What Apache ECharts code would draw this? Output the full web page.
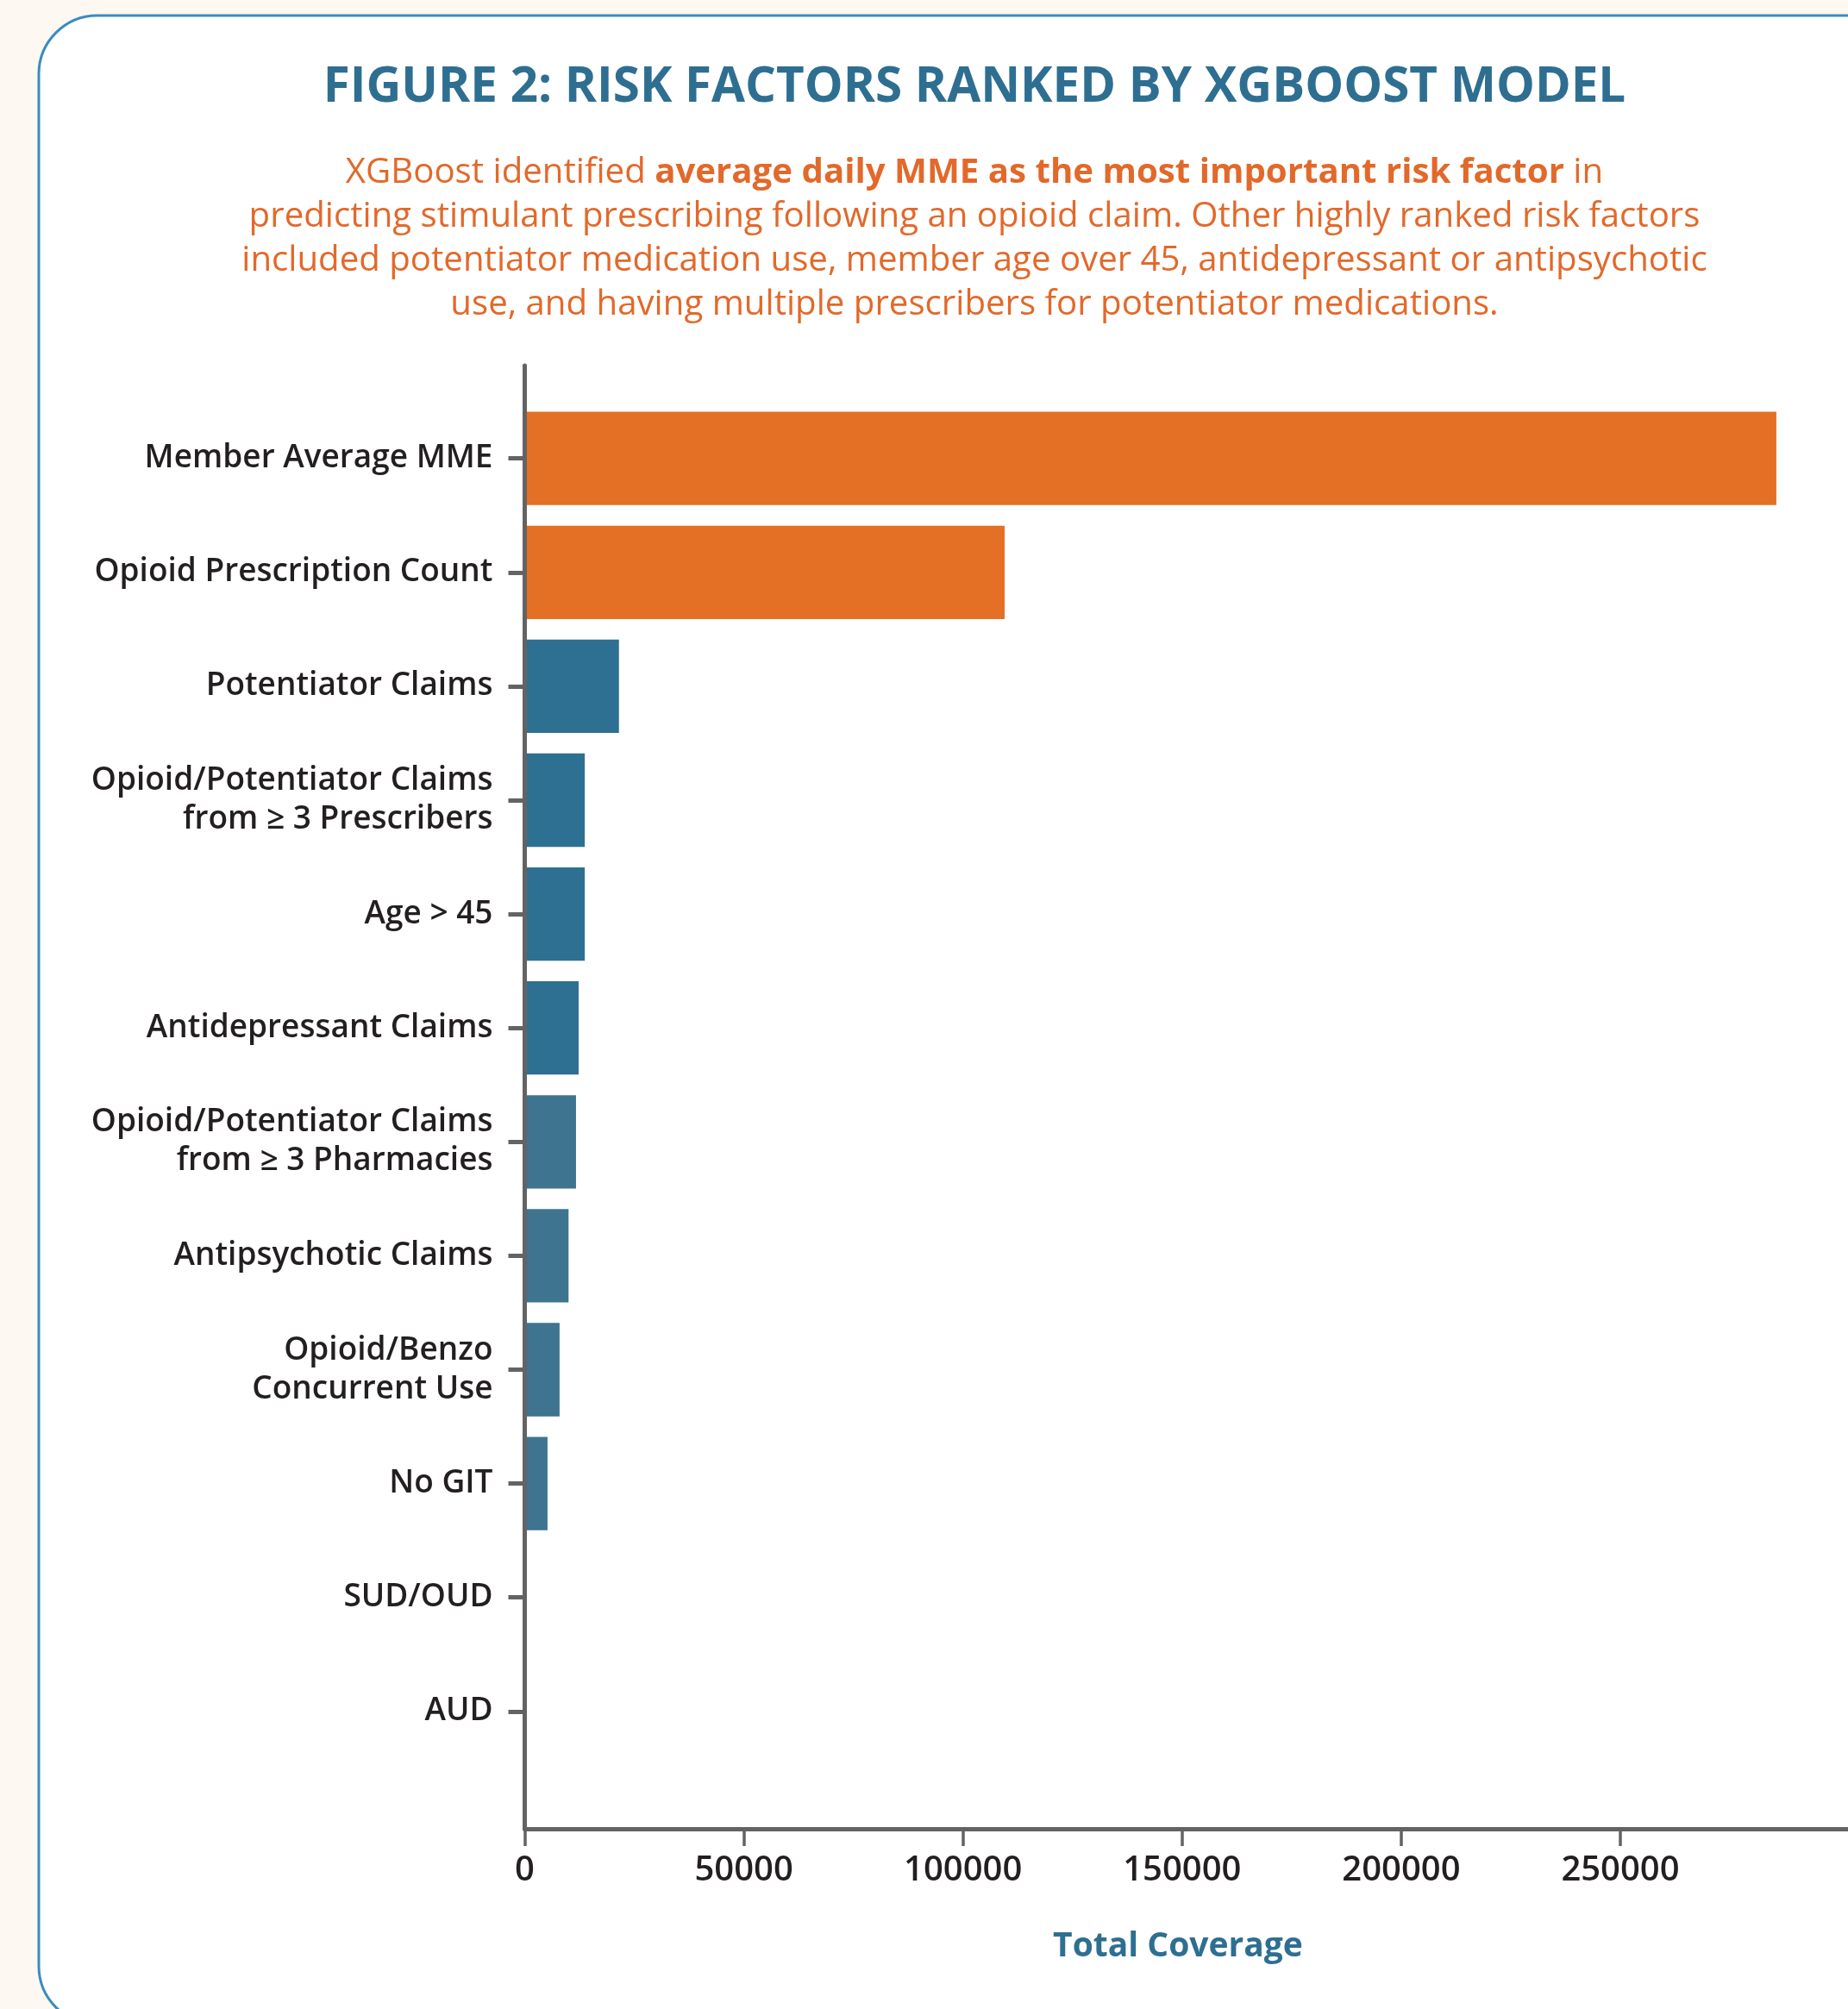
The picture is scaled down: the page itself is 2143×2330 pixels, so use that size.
<!DOCTYPE html>
<html>
<head>
<meta charset="utf-8">
<script src="https://cdn.jsdelivr.net/npm/echarts@6/dist/echarts.min.js"></script>
<style>
  html, body { margin: 0; padding: 0; background: #FDF8F1; }
  #chart { width: 2143px; height: 2330px; }
</style>
</head>
<body>
<div id="chart"></div>
<script>
// ---- data ----
const categories = [
  'Member Average MME',
  'Opioid Prescription Count',
  'Potentiator Claims',
  'Opioid/Potentiator Claims\nfrom \u2265 3 Prescribers',
  'Age > 45',
  'Antidepressant Claims',
  'Opioid/Potentiator Claims\nfrom \u2265 3 Pharmacies',
  'Antipsychotic Claims',
  'Opioid/Benzo\nConcurrent Use',
  'No GIT',
  'SUD/OUD',
  'AUD'
];
const coverage = [285600, 109500, 21500, 13700, 13700, 12300, 11700, 10000, 7950, 5200, 0, 0];
const barColors = ['#E37024', '#E37024', '#2E7091', '#2E7091', '#2E7091', '#2E7091',
                   '#3E748F', '#3E748F', '#3E748F', '#3E748F', '#3E748F', '#3E748F'];
const xTicks = [0, 50000, 100000, 150000, 200000, 250000];

const titleText = 'FIGURE 2: RISK FACTORS RANKED BY XGBOOST MODEL';
const subtitleRich =
  '{n|XGBoost identified }{b|average daily MME as the most important risk factor}{n| in}\n' +
  '{n|predicting stimulant prescribing following an opioid claim. Other highly ranked risk factors}\n' +
  '{n|included potentiator medication use, member age over 45, antidepressant or antipsychotic}\n' +
  '{n|use, and having multiple prescribers for potentiator medications.}';

const FONT = '"Open Sans", Lato, sans-serif';
const AXIS_GREY = '#636363';
const TEXT_DARK = '#231F20';
const BLUE = '#2E6F91';
const ORANGE = '#E2692A';

const chart = echarts.init(document.getElementById('chart'), null, { renderer: 'canvas' });

const option = {
  backgroundColor: '#FDF8F1',
  animation: false,
  graphic: [{
    type: 'rect',
    z: -10,
    silent: true,
    shape: { x: 45, y: 18, width: 2250, height: 2330, r: 68 },
    style: { fill: '#FFFFFF', stroke: '#3A8CC0', lineWidth: 3 }
  }],
  title: [{
    text: titleText,
    left: 1125,
    top: 68,
    textAlign: 'center',
    textStyle: { fontFamily: FONT, fontSize: 56.5, fontWeight: 700, color: BLUE, lineHeight: 58 }
  }, {
    text: subtitleRich,
    left: 1125,
    top: 170,
    textAlign: 'center',
    textStyle: {
      fontFamily: FONT,
      rich: {
        n: { fontFamily: FONT, fontSize: 40.2, fontWeight: 400, color: ORANGE, lineHeight: 51 },
        b: { fontFamily: FONT, fontSize: 40.2, fontWeight: 700, color: ORANGE, lineHeight: 51 }
      }
    }
  }],
  grid: [
    { left: 608.5, width: 1550, top: 465.65, bottom: 279.15, containLabel: false, outerBoundsMode: 'none' },
    { left: 608.5, width: 1550, top: 424, bottom: 209, containLabel: false, outerBoundsMode: 'none' }
  ],
  xAxis: [{
    type: 'value', gridIndex: 0, min: 0, max: 305000, show: false
  }, {
    type: 'value', gridIndex: 1, min: 0, max: 305000,
    z: 5,
    axisLine: { show: true, onZero: false, lineStyle: { color: AXIS_GREY, width: 5 } },
    axisTick: { show: true, customValues: xTicks, length: 20, lineStyle: { color: AXIS_GREY, width: 3.5 } },
    axisLabel: {
      show: true, customValues: xTicks, margin: 29,
      formatter: v => String(v),
      fontFamily: FONT, fontSize: 40, fontWeight: 600, color: TEXT_DARK
    },
    splitLine: { show: false },
    name: 'Total Coverage',
    nameLocation: 'middle',
    nameGap: 117,
    nameTextStyle: { fontFamily: FONT, fontSize: 39, fontWeight: 700, color: BLUE, padding: [0, 35, 0, 0] }
  }],
  yAxis: [{
    type: 'category', gridIndex: 0, inverse: true, data: categories,
    axisLine: { show: false },
    axisTick: { show: true, alignWithLabel: true, length: 19, lineStyle: { color: AXIS_GREY, width: 5 } },
    axisLabel: {
      margin: 37, fontFamily: FONT, fontSize: 37, fontWeight: 600, color: TEXT_DARK,
      lineHeight: 45, align: 'right', padding: [7, 0, 0, 0]
    },
    splitLine: { show: false }
  }, {
    type: 'value', gridIndex: 1, min: 0, max: 1,
    z: 5,
    axisLine: { show: true, onZero: false, lineStyle: { color: AXIS_GREY, width: 5 } },
    axisTick: { show: false },
    axisLabel: { show: false },
    splitLine: { show: false }
  }],
  series: [{
    type: 'bar',
    xAxisIndex: 0,
    yAxisIndex: 0,
    barWidth: '82%',
    data: coverage.map((v, i) => ({ value: v, itemStyle: { color: barColors[i] } }))
  }]
};

chart.setOption(option);
</script>
</body>
</html>
